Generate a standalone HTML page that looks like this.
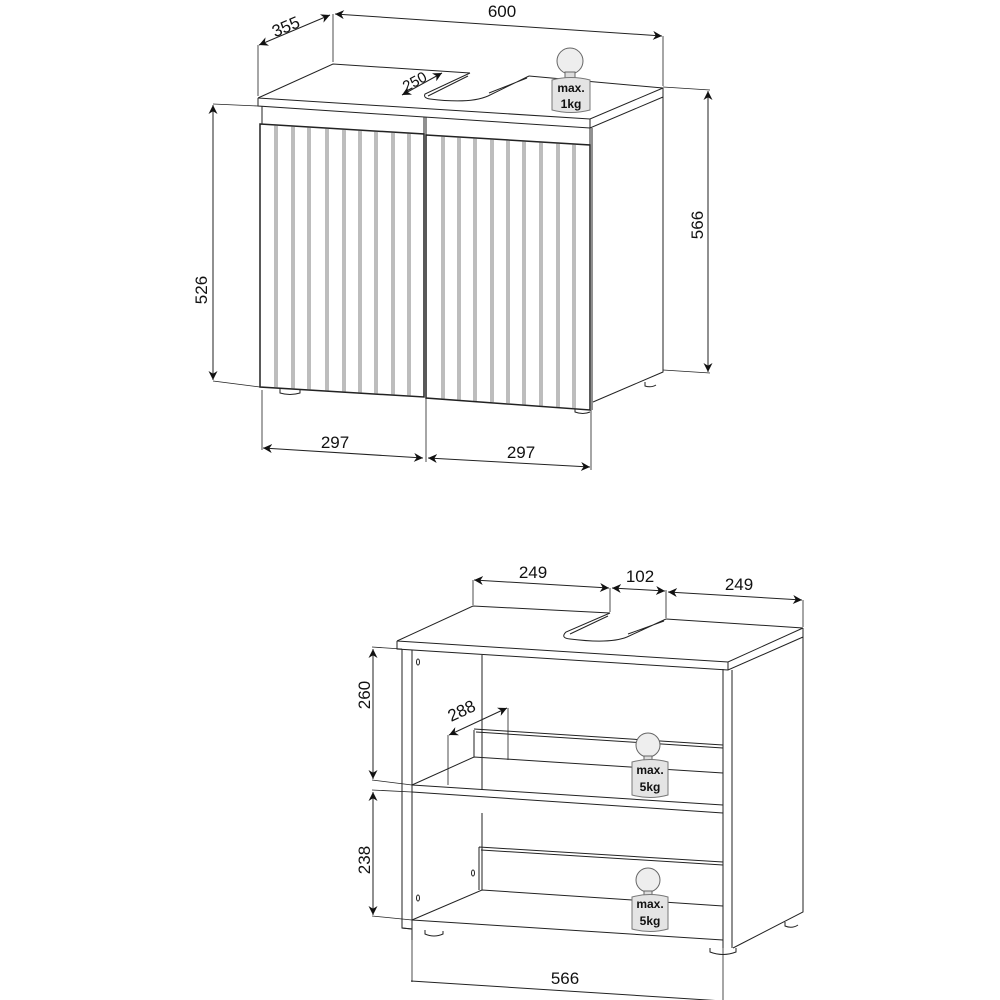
<!DOCTYPE html>
<html><head><meta charset="utf-8"><style>
html,body{margin:0;padding:0;background:#fff;}
svg{display:block;}
text{font-family:"Liberation Sans",sans-serif;fill:#111;}
</style></head><body>
<svg width="1000" height="1000" viewBox="0 0 1000 1000" xmlns="http://www.w3.org/2000/svg">
<defs>
<marker id="a" viewBox="0 0 10 10" refX="10" refY="5" markerWidth="9" markerHeight="9" orient="auto-start-reverse"><path d="M0,0 L10,5 L0,10 L3,5 z" fill="#111"/></marker>
</defs>
<g fill="none" stroke="#222" stroke-width="1">
<!-- ===== TOP CABINET ===== -->
<path d="M258,98 L333,64 L470,73 M529,76 L663,88 L590,119 L258,98"/>
<path d="M258,98 L258,106 L590,128 L663,97 L663,88 M590,119 L590,128"/>
<path d="M470,73 L425,94 Q423,98 430,99 Q470,104 488,96 L529,76 M468,76 L428,96 M489,93 L527,78" />
<path d="M663,97 L663,372 L593,402 M592,128 L592,410 M590,128 L590,145"/>
<path d="M262,106 L262,124 M424,117 L424,134 M426,117 L426,135"/>
<path stroke-width="1.5" d="M260,124 L424,134 L424,397 L260,387 Z"/>
<path stroke-width="1.5" d="M426,135 L590,145 L590,410 L426,398 Z"/>
<path d="M280,389 L280,393 Q290,396 300,393 L300,390"/>
<path d="M575,408 L575,412 Q583,415 590,412"/>
<path d="M645,382 L645,386 Q651,388 656,385"/>
<g stroke="#444" stroke-width="0.7">
<path d="M275,125V388M277,125V388M292,126V389M294,126V389M308,127V390M310,127V390M326,128V391M328,128V391M343,129V392M345,129V392M359,130V393M361,130V393M375,131V394M377,131V394M392,132V395M394,132V395M408,133V396M410,133V396"/>
<path d="M442,136V399M444,136V399M458,137V400M460,137V400M474,138V401M476,138V401M491,139V402M493,139V402M507,140V403M509,140V403M523,141V405M525,141V405M540,142V406M542,142V406M557,143V407M559,143V407M573,144V409M575,144V409"/>
</g>
<g stroke-width="0.8">
<path d="M258,45 L258,96 M333,14 L333,62 M663,36 L663,86"/>
<path d="M663,87 L710,90 M663,370 L710,373"/>
<path d="M213,104 L258,106 M213,381 L260,387"/>
<path d="M262,390 L262,450 M426,398 L426,462 M591,410 L591,470"/>
</g>
<g stroke-width="1" marker-start="url(#a)" marker-end="url(#a)">
<line x1="259" y1="45" x2="330" y2="15"/>
<line x1="335" y1="14" x2="662" y2="36"/>
<line x1="402" y1="95" x2="442" y2="73"/>
<line x1="708" y1="91" x2="708" y2="372"/>
<line x1="213" y1="105" x2="213" y2="380"/>
<line x1="263" y1="448" x2="423" y2="458"/>
<line x1="428" y1="458" x2="590" y2="467"/>
</g>
<circle cx="570" cy="61" r="13" fill="#eee" stroke="#666"/>
<rect x="565" y="72" width="10" height="6" fill="#ddd" stroke="#666"/>
<path d="M552,80 Q571,75 590,80 L590,110 Q571,115 552,110 Z" fill="#e4e4e4" stroke="#777"/>

<!-- ===== BOTTOM CABINET ===== -->
<path d="M397,641 L473,606 L610,613 M666,619 L803,628 L728,662 L397,641"/>
<path d="M397,641 L397,649 L728,670 L803,637 L803,628 M728,662 L728,670"/>
<path d="M610,613 L566,632 Q560,638 570,639 Q610,644 627,637 L666,619 M608,616 L570,634 M628,634 L664,621"/>
<path d="M402,649 L402,928 L412,929 M412,650 L412,940 M482,655 L482,790 M482,813 L482,890"/>
<path d="M723,669 L723,948 M732,670 L732,948 M803,637 L803,912 L733,948"/>
<path d="M412,785 L474,757 L723,773 M412,785 L723,805 M412,792 L723,813"/>
<path d="M474,730 L474,757 M474,729 L723,745 M476,732 L723,748"/>
<path d="M479,847 L479,890 M479,847 L723,862 M481,850 L723,865"/>
<path d="M412,920 L482,890 L723,906 M412,920 L723,940 M402,928 L412,929"/>
<path d="M425,930 L425,934 Q434,938 443,934 L443,931"/>
<path d="M710,948 L710,952 Q723,957 736,952 L736,948"/>
<path d="M785,922 L785,926 Q792,929 798,925"/>
<ellipse cx="418" cy="662" rx="1.5" ry="3"/>
<ellipse cx="473" cy="873" rx="1.5" ry="3"/>
<ellipse cx="418" cy="898" rx="1.5" ry="3"/>
<g stroke-width="0.8">
<path d="M473,580 L473,605 M610,588 L610,612 M666,590 L666,618 M803,600 L803,627"/>
<path d="M372,647 L402,649 M372,780 L412,785 M372,790 L412,792 M372,916 L412,920"/>
<path d="M448,735 L448,785 M508,708 L508,760"/>
<path d="M412,940 L412,982 M723,948 L723,1000"/>
</g>
<g stroke-width="1" marker-start="url(#a)" marker-end="url(#a)">
<line x1="474" y1="580" x2="609" y2="588"/>
<line x1="612" y1="588" x2="665" y2="591"/>
<line x1="668" y1="592" x2="802" y2="600"/>
<line x1="373" y1="649" x2="373" y2="779"/>
<line x1="373" y1="792" x2="373" y2="915"/>
<line x1="449" y1="735" x2="507" y2="708"/>
</g>
<line x1="411" y1="981" x2="723" y2="1001" stroke-width="1"/>
<circle cx="648" cy="745" r="12" fill="#eee" stroke="#666"/>
<rect x="644" y="756" width="8" height="5" fill="#ddd" stroke="#666"/>
<path d="M632,762 Q650,757 668,762 L668,795 Q650,800 632,795 Z" fill="#e4e4e4" stroke="#777"/>
<circle cx="648" cy="880" r="12" fill="#eee" stroke="#666"/>
<rect x="644" y="891" width="8" height="5" fill="#ddd" stroke="#666"/>
<path d="M632,897 Q650,892 668,897 L668,929 Q650,934 632,929 Z" fill="#e4e4e4" stroke="#777"/>
</g>
<g font-size="17">
<text x="288" y="32" transform="rotate(-23 288 32)" text-anchor="middle">355</text>
<text x="502" y="17" text-anchor="middle">600</text>
<text x="417" y="86" transform="rotate(-28 417 86)" text-anchor="middle" font-size="15">250</text>
<text x="703" y="225" transform="rotate(-90 703 225)" text-anchor="middle">566</text>
<text x="207" y="290" transform="rotate(-90 207 290)" text-anchor="middle">526</text>
<text x="335" y="448" text-anchor="middle">297</text>
<text x="521" y="458" text-anchor="middle">297</text>
<text x="533" y="578" text-anchor="middle">249</text>
<text x="640" y="582" text-anchor="middle">102</text>
<text x="739" y="590" text-anchor="middle">249</text>
<text x="370" y="695" transform="rotate(-90 370 695)" text-anchor="middle">260</text>
<text x="370" y="860" transform="rotate(-90 370 860)" text-anchor="middle">238</text>
<text x="464" y="716" transform="rotate(-25 464 716)" text-anchor="middle">288</text>
<text x="565" y="984" text-anchor="middle">566</text>
</g>
<g font-size="12" font-weight="bold" text-anchor="middle">
<text x="571" y="92">max.</text><text x="571" y="108">1kg</text>
<text x="650" y="774">max.</text><text x="650" y="791">5kg</text>
<text x="650" y="908">max.</text><text x="650" y="925">5kg</text>
</g>
</svg>
</body></html>
